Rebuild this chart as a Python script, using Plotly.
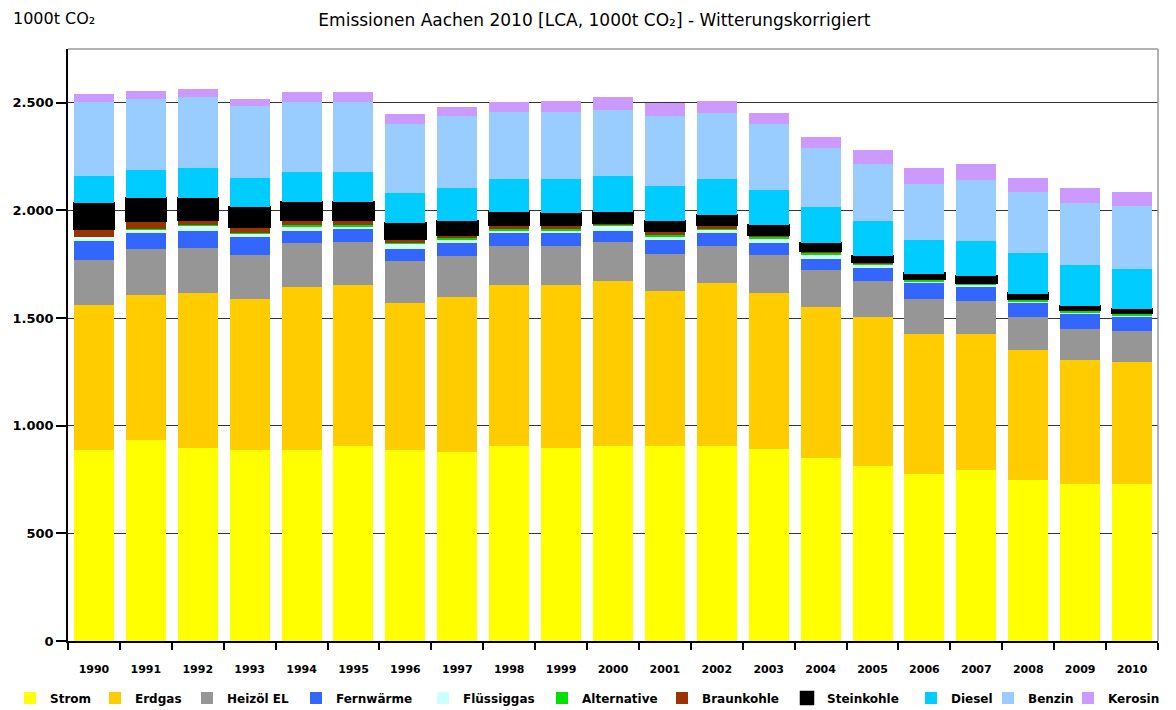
import plotly.graph_objects as go

years = [str(y) for y in range(1990, 2011)]

strom      = [889, 933, 897, 886, 886, 906, 886, 878, 905, 897, 905, 905, 905, 894, 850, 812, 775, 793, 747, 728, 728]
erdgas     = [674, 673, 720, 705, 759, 747, 686, 720, 748, 756, 766, 721, 759, 723, 702, 694, 649, 631, 604, 576, 567]
heizoel    = [209, 213, 209, 201, 202, 201, 192, 191, 182, 182, 183, 174, 171, 175, 171, 167, 167, 156, 155, 144, 144]
fernwaerme = [85, 77, 78, 85, 58, 59, 59, 58, 58, 58, 50, 65, 61, 55, 51, 60, 73, 65, 65, 69, 67]
fluessig   = [20, 16, 24, 16, 22, 14, 23, 18, 15, 15, 27, 14, 14, 24, 23, 15, 6, 9, 8, 11, 6]
alternativ = [0, 2, 4, 3, 5, 5, 5, 5, 5, 5, 6, 6, 6, 6, 7, 7, 7, 7, 8, 8, 8]
braunkohle = [39, 36, 26, 28, 23, 26, 16, 18, 22, 19, 5, 19, 16, 8, 8, 6, 4, 4, 4, 4, 4]
steinkohle = [117, 109, 101, 90, 85, 79, 73, 62, 58, 54, 51, 46, 46, 47, 35, 27, 26, 31, 23, 15, 16]
diesel     = [128, 131, 139, 139, 139, 142, 139, 155, 151, 158, 168, 164, 166, 162, 167, 162, 158, 163, 189, 191, 187]
benzin     = [341, 327, 330, 332, 323, 323, 321, 333, 314, 314, 305, 324, 311, 306, 274, 264, 257, 282, 283, 287, 294]
kerosin    = [37, 39, 37, 35, 46, 46, 46, 43, 44, 51, 62, 62, 54, 55, 54, 66, 76, 73, 66, 72, 65]

series = [
    ("Strom", strom, "#FFFF00"),
    ("Erdgas", erdgas, "#FFCC00"),
    ("Heizöl EL", heizoel, "#969696"),
    ("Fernwärme", fernwaerme, "#3366FF"),
    ("Flüssiggas", fluessig, "#CCFFFF"),
    ("Alternative", alternativ, "#00E000"),
    ("Braunkohle", braunkohle, "#993300"),
    ("Steinkohle", steinkohle, "#000000"),
    ("Diesel", diesel, "#00CCFF"),
    ("Benzin", benzin, "#99CCFF"),
    ("Kerosin", kerosin, "#CC99FF"),
]

# left edge (px, in figure) of each legend entry, to mimic the spreadsheet legend spacing
legend_left_px = [2, 87, 179, 288, 415, 534, 654, 779, 903, 980, 1060]

FONT = "DejaVu Sans, Liberation Sans, Arial, sans-serif"
FIG_W, FIG_H = 1168, 702   # page has an 8px body margin

fig = go.Figure()
legend_layouts = {}
for i, (name, vals, col) in enumerate(series):
    lw = 2.5 if name == "Steinkohle" else 0
    lid = "legend" if i == 0 else f"legend{i + 1}"
    fig.add_trace(go.Bar(
        x=years, y=vals, name=name, legend=lid,
        marker=dict(color=col, line=dict(color="#000000", width=lw)),
    ))
    legend_layouts[lid] = dict(
        orientation="h",
        xref="container", yref="container",
        x=legend_left_px[i] / FIG_W, xanchor="left",
        y=1 - 690 / FIG_H, yanchor="middle",
        font=dict(family=FONT, size=12, color="#000000", weight="bold"),
        itemwidth=30,
        bgcolor="rgba(0,0,0,0)",
        borderwidth=0,
    )

fig.update_layout(
    barmode="stack",
    bargap=0.23,
    width=FIG_W, height=FIG_H,
    margin=dict(l=60, r=18, t=41, b=69),
    paper_bgcolor="white",
    plot_bgcolor="white",
    separators=",.",
    font=dict(family=FONT, size=12, color="#000000"),
    title=dict(
        text="Emissionen Aachen 2010 [LCA, 1000t CO₂] - Witterungskorrigiert",
        x=0.502, xanchor="center", y=1 - 12 / FIG_H, yanchor="middle",
        font=dict(family=FONT, size=17, color="#000000"),
    ),
    showlegend=True,
    annotations=[dict(
        text="1000t CO₂", xref="paper", yref="paper",
        x=-0.052, y=1.0507, xanchor="left", yanchor="middle", showarrow=False,
        font=dict(family=FONT, size=16, color="#000000"),
    )],
    **legend_layouts,
)

fig.update_xaxes(
    type="category",
    showline=True, linecolor="#000000", linewidth=1.5,
    ticks="outside", tickson="boundaries", ticklen=7, tickcolor="#000000", tickwidth=1.5,
    ticklabelstandoff=17,
    tickfont=dict(family=FONT, size=11, color="#000000", weight="bold"),
    showgrid=False, mirror=False, automargin=False,
)
fig.update_yaxes(
    range=[0, 2750],
    tickvals=[0, 500, 1000, 1500, 2000, 2500],
    tickformat=",d",
    showline=True, linecolor="#000000", linewidth=1.5,
    ticks="outside", ticklen=10, tickcolor="#000000", tickwidth=1.5,
    tickfont=dict(family=FONT, size=13, color="#000000", weight="bold"),
    showgrid=True, gridcolor="#333333", gridwidth=1.2,
    zeroline=False, automargin=False,
)

# plot area border (top and right in gray)
fig.add_shape(type="line", xref="paper", yref="paper", x0=0, x1=1, y0=1, y1=1,
              line=dict(color="#999999", width=1.5))
fig.add_shape(type="line", xref="paper", yref="paper", x0=1, x1=1, y0=0, y1=1,
              line=dict(color="#999999", width=1.5))

fig.write_html("out.html")
